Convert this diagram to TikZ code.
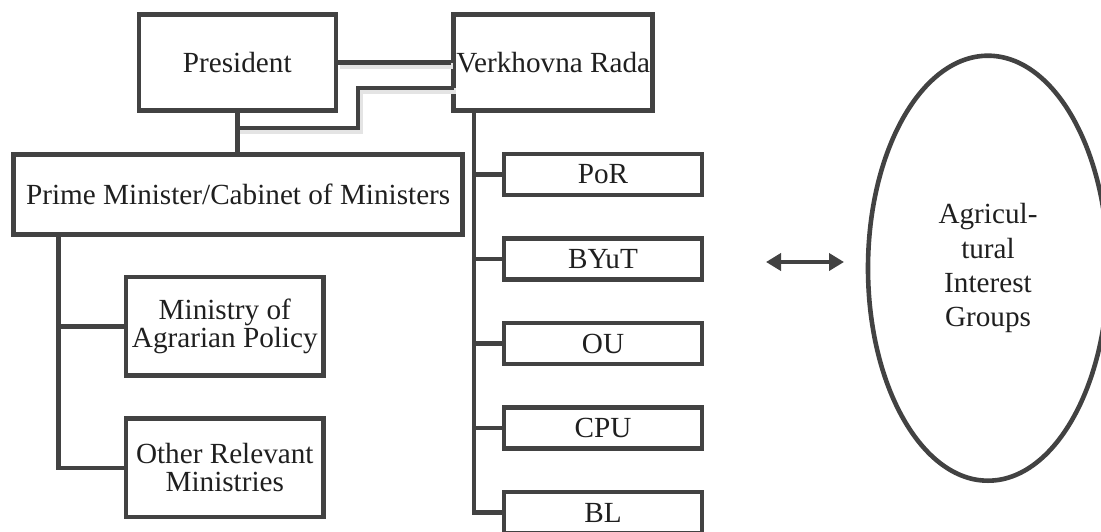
\documentclass[tikz,border=0pt]{standalone}
\usepackage{fontspec}
\setmainfont{Liberation Serif}
\usetikzlibrary{shapes.geometric,arrows.meta}
\definecolor{gline}{RGB}{66,66,66}
\definecolor{gshadow}{RGB}{228,228,228}
\tikzset{
  box/.style={draw=gline, line width=4.6pt, rectangle, inner sep=0pt, align=center,
              font=\fontsize{29.2}{28.3}\selectfont, text=black!88},
  conn/.style={draw=gline, line width=4.6pt},
  shadowconn/.style={draw=gshadow, line width=6pt, transform canvas={shift={(2pt,-3pt)}}},
}
\begin{document}
\begin{tikzpicture}[x=1pt,y=-1pt]
\useasboundingbox (0,0) rectangle (1101,531);

% top boxes
\node[box, minimum width=197pt, minimum height=96pt] (pres) at (237.3,62.7) {President};
\node[box, minimum width=199pt, minimum height=96pt] (vr) at (553.2,62.7) {Verkhovna Rada};
\node[box, minimum width=449pt, minimum height=80pt] (pm) at (238.2,194.7) {Prime Minister/Cabinet of Ministers};

% ministries
\node[box, minimum width=197.7pt, minimum height=98.3pt] (map) at (224.8,326.2) {Ministry of\\Agrarian Policy};
\node[box, minimum width=197.7pt, minimum height=98.3pt] (orm) at (224.8,467.8) {Other Relevant\\Ministries};

% parties
\node[box, minimum width=198pt, minimum height=41pt] (por) at (603,174.5) {PoR};
\node[box, minimum width=198pt, minimum height=41pt] (byut) at (603,259) {BYuT};
\node[box, minimum width=198pt, minimum height=41pt] (ou) at (603,343.5) {OU};
\node[box, minimum width=198pt, minimum height=41pt] (cpu) at (603,428) {CPU};
\node[box, minimum width=198pt, minimum height=41pt] (bl) at (603,512.5) {BL};

% ellipse
\node[draw=gline, line width=4.6pt, ellipse, minimum width=240pt, minimum height=425pt,
      align=center, inner sep=0pt, text=black!88,
      font=\fontsize{29.2}{34.3}\selectfont] (aig) at (988,268.2)
      {Agricul-\\tural\\Interest\\Groups};

% coordinates for connectors
\coordinate (vrlow) at (453.7,88);
\coordinate (bend) at (358,88);
\coordinate (join) at (237.3,128);
\coordinate (pmL) at (58.3,234.7);
\coordinate (vrL) at (474,110.7);
\coordinate (aL) at (766,262);
\coordinate (aR) at (844,262);

% shadows of the president--rada connectors
\draw[shadowconn] (pres.east) -- (vr.west);
\draw[shadowconn] (vrlow) -- (bend) |- (join);

% president -- rada connectors
\draw[conn] (pres.east) -- (vr.west);
\draw[conn] (vrlow) -- (bend) |- (join);
\draw[conn] (pres.south) -- (pres.south |- pm.north);

% prime minister spine
\draw[conn] (pmL) |- (map.west);
\draw[conn] (pmL) |- (orm.west);

% rada spine
\draw[conn] (vrL) |- (por.west);
\draw[conn] (vrL) |- (byut.west);
\draw[conn] (vrL) |- (ou.west);
\draw[conn] (vrL) |- (cpu.west);
\draw[conn] (vrL) |- (bl.west);

% double arrow
\draw[draw=gline, line width=4.6pt,
      {Triangle[length=15pt,width=17pt]}-{Triangle[length=15pt,width=17pt]}] (aL) -- (aR);
\end{tikzpicture}
\end{document}
